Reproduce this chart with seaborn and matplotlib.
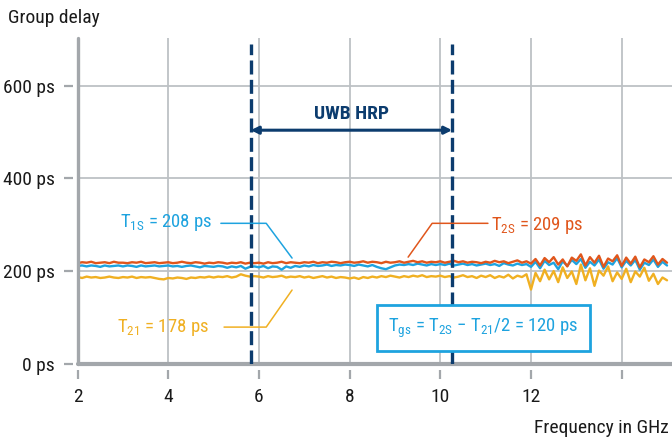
import numpy as np
import pandas as pd
import matplotlib
matplotlib.use('Agg')
import matplotlib.pyplot as plt
from matplotlib import font_manager
import seaborn as sns

# frequency grid in GHz, 0.1 GHz steps from 2 to 15
freq = np.round(np.arange(20, 151) / 10.0, 1)

# group delay readings in ps
t2s = [
    217, 219, 218, 220, 217, 218, 219, 217, 220, 218,
    218, 217, 219, 218, 220, 217, 218, 219, 217, 218,
    219, 217, 218, 220, 218, 217, 219, 218, 216, 218,
    217, 219, 218, 216, 218, 217, 219, 216, 218, 217,
    218, 216, 219, 217, 218, 220, 217, 219, 218, 217,
    219, 218, 220, 217, 219, 218, 220, 219, 217, 219,
    220, 218, 219, 221, 218, 220, 219, 217, 220, 218,
    219, 221, 218, 220, 222, 219, 221, 218, 220, 219,
    221, 218, 220, 222, 219, 221, 218, 220, 219, 217,
    220, 218, 222, 219, 221, 217, 220, 223, 218, 221,
    216, 226, 212, 228, 219, 230, 214, 225, 210, 229,
    222, 236, 212, 230, 218, 233, 209, 227, 221, 234,
    211, 229, 216, 231, 208, 225, 219, 232, 214, 226,
    218,
]
t1s = [
    211, 212, 210, 212, 211, 209, 212, 210, 211, 212,
    210, 212, 211, 209, 212, 210, 211, 212, 210, 211,
    212, 210, 211, 209, 211, 212, 210, 208, 211, 210,
    209, 211, 210, 207, 210, 208, 211, 205, 209, 210,
    208, 211, 206, 210, 209, 203, 210, 207, 211, 209,
    212, 210, 213, 211, 212, 214, 211, 213, 212, 214,
    213, 211, 214, 212, 210, 213, 209, 206, 204, 208,
    212, 214, 213, 215, 213, 216, 214, 212, 215, 213,
    215, 213, 216, 212, 214, 216, 213, 215, 212, 214,
    216, 213, 215, 211, 217, 214, 212, 216, 213, 215,
    209, 220, 206, 222, 213, 218, 204, 221, 211, 224,
    215, 226, 207, 220, 212, 225, 205, 219, 214, 228,
    208, 222, 212, 224, 203, 218, 213, 225, 209, 220,
    212,
]
t21 = [
    187, 185, 188, 186, 187, 185, 186, 188, 186, 185,
    187, 186, 188, 185, 187, 186, 187, 185, 183, 182,
    185, 184, 186, 185, 183, 186, 185, 187, 186, 188,
    186, 188, 187, 189, 186, 188, 193, 190, 188, 189,
    188, 186, 189, 187, 188, 190, 186, 188, 187, 189,
    186, 188, 185, 187, 189, 186, 188, 185, 187, 186,
    184, 186, 183, 187, 185, 188, 186, 189, 187, 190,
    188, 186, 189, 187, 190, 188, 191, 187, 189, 188,
    190, 187, 189, 186, 188, 191, 187, 189, 185, 190,
    187, 191, 185, 189, 186, 192, 184, 190, 187, 193,
    160, 196, 178, 203, 182, 200, 176, 208, 185, 199,
    172, 214, 180, 206, 168, 201, 190, 210, 178, 197,
    183, 205, 176, 199, 188, 207, 179, 194, 172, 186,
    180,
]

series_names = ['T21', 'T1S', 'T2S']
series_colors = ['#f0b022', '#1ea3df', '#e0561c']
navy = '#0c3c6e'
grid_gray = '#bdc1c5'
axis_gray = '#a3a7ab'

# UWB HRP band edges (GHz) and arrow height (ps)
band = [5.82, 10.26]
band_arrow_y = 504

yticks = [0, 200, 400, 600]
ytick_labels = ['0 ps', '200 ps', '400 ps', '600 ps']
xticks = [2, 4, 6, 8, 10, 12, 14]
xtick_labels = ['2', '4', '6', '8', '10', '12', '']

df = pd.concat([
    pd.DataFrame({'freq': freq, 'delay': vals, 'series': name})
    for name, vals in zip(series_names, [t21, t1s, t2s])
], ignore_index=True)

sns.set_style('white')
available = {f.name for f in font_manager.fontManager.ttflist}
families = [f for f in ['Liberation Sans Narrow', 'Roboto Condensed', 'DejaVu Sans Condensed']
            if f in available] + ['DejaVu Sans']
plt.rcParams['font.family'] = families
plt.rcParams['mathtext.default'] = 'regular'

fig = plt.figure(figsize=(6.72, 4.37), dpi=100)
ax = fig.add_axes([77.6 / 672, (437 - 363.7) / 437, 1 - 77.6 / 672, (363.7 - 38) / 437])

ax.set_xlim(2, 15.11)
ax.set_ylim(0, 703)

# grid
for x in xticks[1:]:
    ax.axvline(x, color=grid_gray, lw=1.3, zorder=0)
for y in yticks[1:]:
    ax.axhline(y, color=grid_gray, lw=1.3, zorder=0)

sns.lineplot(data=df, x='freq', y='delay', hue='series', hue_order=series_names,
             palette=series_colors, legend=False, lw=1.7, ax=ax, zorder=3)

# frame
ax.axvline(2, color=axis_gray, lw=2.4, clip_on=False, zorder=4)
ax.axhline(0, color=axis_gray, lw=3, clip_on=False, zorder=4)
for side in ['top', 'right', 'left', 'bottom']:
    ax.spines[side].set_visible(False)
ax.spines['left'].set_position(('outward', 3.6))
ax.spines['bottom'].set_position(('outward', 4.5))

ax.set_xticks(xticks)
ax.set_xticklabels(xtick_labels)
ax.set_yticks(yticks)
ax.set_yticklabels(ytick_labels)
ax.tick_params(axis='both', left=True, bottom=True, length=6.8, width=1.6,
               color=axis_gray, labelsize=14, labelcolor='#1a1a1a')
ax.tick_params(axis='y', pad=6)
ax.tick_params(axis='x', pad=6)
ax.set_xlabel('')
ax.set_ylabel('')

# band markers
for b in band:
    ax.plot([b, b], [0, 690], color=navy, lw=2.4, dashes=(4.2, 1.6), zorder=5)
ax.annotate('', xy=(band[0], band_arrow_y), xytext=(band[1], band_arrow_y),
            arrowprops=dict(arrowstyle='<|-|>', color=navy, lw=2.2,
                            mutation_scale=11, shrinkA=0, shrinkB=0), zorder=5)
ax.text(sum(band) / 2, 539, 'UWB HRP', color=navy, fontsize=14, fontweight='bold',
        ha='center', va='center')

# leader lines and labels
ax.plot([5.16, 6.16, 6.73], [303, 303, 228], color=series_colors[1], lw=1.1, zorder=6)
ax.plot([5.23, 6.16, 6.73], [79, 79, 159], color=series_colors[0], lw=1.1, zorder=6)
ax.plot([11.05, 9.82, 9.29], [303, 303, 230], color=series_colors[2], lw=1.1, zorder=6)

ax.text(4.98, 294, r'T$_{1S}$ = 208 ps', color=series_colors[1], fontsize=13.5,
        ha='right', va='baseline')
ax.text(4.90, 69, r'T$_{21}$ = 178 ps', color=series_colors[0], fontsize=13.5,
        ha='right', va='baseline')
ax.text(11.12, 288, r'T$_{2S}$ = 209 ps', color=series_colors[2], fontsize=13.5,
        ha='left', va='baseline')
ax.text(10.95, 69, r'T$_{gs}$ = T$_{2S}$ $-$ T$_{21}$/2 = 120 ps', color=series_colors[1],
        fontsize=13.5, ha='center', va='baseline', zorder=7,
        bbox=dict(boxstyle='square,pad=0.6', fc='white', ec=series_colors[1], lw=2))

fig.text(8 / 672, 1 - 18 / 437, 'Group delay', fontsize=14, color='#1a1a1a',
         ha='left', va='center')
fig.text(669 / 672, 1 - 428 / 437, 'Frequency in GHz', fontsize=14, color='#1a1a1a',
         ha='right', va='center')

fig.savefig('out.png', dpi=100)
